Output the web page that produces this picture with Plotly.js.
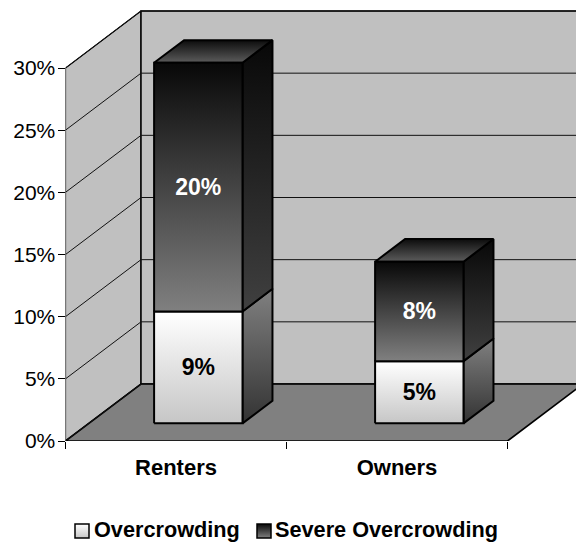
<!DOCTYPE html>
<html>
<head>
<meta charset="utf-8">
<script src="https://cdn.plot.ly/plotly-3.0.1.min.js"></script>
<style>html,body{margin:0;padding:0;background:#fff}#chart{width:576px;height:542px}</style>
</head>
<body>
<div id="chart"></div>
<script>
// Housing overcrowding by tenure, drawn as a stacked 3-D column chart.
const categories = ['Renters', 'Owners'];
const overcrowding = [9, 5];
const severeOvercrowding = [20, 8];
const valueTicks = [0, 5, 10, 15, 20, 25, 30];
const seriesNames = ['Overcrowding', 'Severe Overcrowding'];

const FONT = '"Liberation Sans", Arial, sans-serif';

// Scale of the front plane: pixels per category and per percentage point.
const W = 576, H = 542, LEFT = 65.5, BASE = 441;
const PX_PER_CAT = 221, PX_PER_PCT = 373 / 30;
const KEY_H = 50;

// Oblique projection: depth 0 is the front plane, depth 1 is the back wall.
const DEPTH_X = 75.5 / PX_PER_CAT, DEPTH_Y = 57 / PX_PER_PCT;
const project = (x, y, d) => [x + d * DEPTH_X, y + d * DEPTH_Y];

const BAR_HALF = 0.2, BAR_D0 = 0.31, BAR_D1 = 0.707, BAR_SHIFT = -0.005;
const LABEL_DROP = 0.18;

function face(corners, opts) {
  const pts = corners.map(c => project(c[0], c[1], c[2]));
  pts.push(pts[0]);
  const t = {
    type: 'scatter', mode: 'lines', fill: 'toself',
    x: pts.map(p => p[0]), y: pts.map(p => p[1]),
    line: { color: opts.line || '#000', width: opts.width === undefined ? 2 : opts.width, shape: 'linear' },
    hoverinfo: 'skip', showlegend: false
  };
  if (opts.color) t.fillcolor = opts.color;
  if (opts.scale) t.fillgradient = { type: 'vertical', colorscale: opts.scale };
  return t;
}

// Colour ramps run from the low end of a face to its high end.
const ramps = {
  lightFront: [[0, '#c6c6c6'], [1, '#ffffff']],
  lightSide: [[0, '#333333'], [1, '#808080']],
  darkFront: [[0, '#808080'], [1, '#080808']],
  darkSide: [[0, '#404040'], [1, '#080808']],
  darkTop: [[0, '#5c5c5c'], [1, '#0c0c0c']]
};

const traces = [];

// Walls and floor
const XEND = 2;
traces.push(face([[0, 0, 0], [0, 0, 1], [0, 30, 1], [0, 30, 0]], { color: '#c0c0c0', width: 1.2 }));
traces.push(face([[0, 0, 1], [XEND, 0, 1], [XEND, 30, 1], [0, 30, 1]], { color: '#c0c0c0', width: 1.5 }));
traces.push(face([[0, 0, 0], [XEND, 0, 0], [XEND, 0, 1], [0, 0, 1]], { color: '#808080', width: 1.7 }));

// Gridlines wrap around the left wall and the back wall
const gx = [], gy = [];
valueTicks.forEach(v => {
  [[0, v, 0], [0, v, 1], [XEND, v, 1]].forEach(c => {
    const p = project(c[0], c[1], c[2]);
    gx.push(p[0]); gy.push(p[1]);
  });
  gx.push(null); gy.push(null);
});
traces.push({
  type: 'scatter', mode: 'lines', x: gx, y: gy,
  line: { color: '#111', width: 1 }, hoverinfo: 'skip', showlegend: false
});

// Column segment: side, top and front faces
function segment(center, lo, hi, front, side, top) {
  const a = center - BAR_HALF, b = center + BAR_HALF;
  traces.push(face([[b, lo, BAR_D0], [b, lo, BAR_D1], [b, hi, BAR_D1], [b, hi, BAR_D0]], { scale: side }));
  if (top) traces.push(face([[a, hi, BAR_D0], [b, hi, BAR_D0], [b, hi, BAR_D1], [a, hi, BAR_D1]], { scale: top }));
  traces.push(face([[a, lo, BAR_D0], [b, lo, BAR_D0], [b, hi, BAR_D0], [a, hi, BAR_D0]], { scale: front }));
}

const centers = categories.map((_, i) => i + 0.5);
const barCenters = centers.map(c => c + BAR_SHIFT);
barCenters.forEach((c, i) => {
  const o = overcrowding[i], s = severeOvercrowding[i];
  segment(c, 0, o, ramps.lightFront, ramps.lightSide, null);
  segment(c, o, o + s, ramps.darkFront, ramps.darkSide, ramps.darkTop);
});

// Value labels centred on each front face
function valueLabels(values, bases, color) {
  const pts = values.map((v, i) => project(barCenters[i], bases[i] + v / 2 - LABEL_DROP, BAR_D0));
  return {
    type: 'scatter', mode: 'text',
    x: pts.map(p => p[0]), y: pts.map(p => p[1]),
    text: values.map(v => v + '%'),
    textposition: 'middle center',
    textfont: { family: FONT, size: 23, color: color, weight: 700 },
    hoverinfo: 'skip', showlegend: false
  };
}
traces.push(valueLabels(overcrowding, [0, 0], '#000'));
traces.push(valueLabels(severeOvercrowding, overcrowding, '#fff'));

// Key below the chart, in its own pixel-scaled subplot: gradient swatch, then the series name
function keyEntry(name, swatchX, textX, c0, c1) {
  return [{
    type: 'scatter', mode: 'markers', xaxis: 'x2', yaxis: 'y2',
    x: [swatchX], y: [11],
    marker: {
      symbol: 'square', size: 14, color: c0,
      gradient: { type: 'vertical', color: c1 },
      line: { color: '#000', width: 1.5 }
    },
    name: name, hoverinfo: 'skip', showlegend: false
  }, {
    type: 'scatter', mode: 'text', xaxis: 'x2', yaxis: 'y2',
    x: [textX], y: [10],
    text: [name], textposition: 'middle right',
    textfont: { family: FONT, size: 21.7, color: '#000', weight: 700 },
    name: name, hoverinfo: 'skip', showlegend: false
  }];
}
traces.push(...keyEntry(seriesNames[0], 82, 94, '#ffffff', '#c6c6c6'));
traces.push(...keyEntry(seriesNames[1], 264, 275, '#080808', '#808080'));

const layout = {
  width: W, height: H,
  margin: { l: 0, r: 0, t: 0, b: 0, pad: 0 },
  paper_bgcolor: '#fff', plot_bgcolor: 'rgba(0,0,0,0)',
  showlegend: false,
  font: { family: FONT, color: '#000' },
  xaxis: {
    domain: [LEFT / W, 1],
    range: [0, (W - LEFT) / PX_PER_CAT], fixedrange: true,
    showgrid: false, zeroline: false, showline: false,
    tickmode: 'array', tickvals: centers, ticktext: categories,
    ticks: 'outside', ticklen: 7, tickcolor: 'rgba(0,0,0,0)',
    tickfont: { family: FONT, size: 22, color: '#000', weight: 700 },
    minor: { tickmode: 'array', tickvals: [0, 1, 2], ticks: 'outside', ticklen: 7, tickwidth: 1, tickcolor: '#000', showgrid: false }
  },
  yaxis: {
    domain: [(H - BASE) / H, 1],
    range: [0, BASE / PX_PER_PCT], fixedrange: true,
    showgrid: false, zeroline: false, showline: false,
    tickmode: 'array', tickvals: valueTicks, ticktext: valueTicks.map(v => v + '%'),
    ticks: 'outside', ticklen: 7, tickwidth: 1, tickcolor: '#000',
    ticklabelstandoff: -2,
    tickfont: { family: FONT, size: 21, color: '#000' }
  },
  xaxis2: { domain: [0, 1], range: [0, W], visible: false, fixedrange: true, anchor: 'y2' },
  yaxis2: { domain: [0, KEY_H / H], range: [0, KEY_H], visible: false, fixedrange: true, anchor: 'x2' }
};

Plotly.newPlot('chart', traces, layout, { displayModeBar: false, staticPlot: true });
</script>
</body>
</html>
